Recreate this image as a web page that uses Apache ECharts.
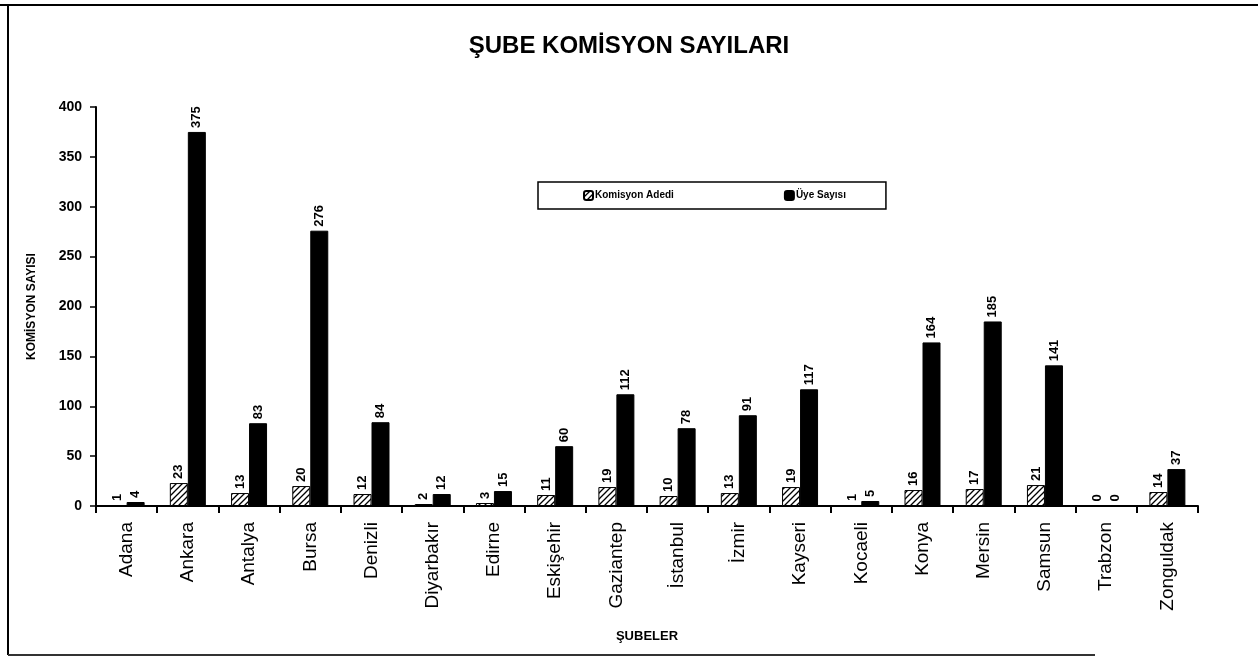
<!DOCTYPE html>
<html>
<head>
<meta charset="utf-8">
<script src="https://cdn.jsdelivr.net/npm/echarts@6/dist/echarts.min.js"></script>
<style>
  html, body { margin: 0; padding: 0; background: #fff; }
  #main { width: 1258px; height: 669px; }
</style>
</head>
<body>
<div id="main"></div>
<script>
// veriler
var subeler = ['Adana', 'Ankara', 'Antalya', 'Bursa', 'Denizli', 'Diyarbakır', 'Edirne', 'Eskişehir', 'Gaziantep',
  'İstanbul', 'İzmir', 'Kayseri', 'Kocaeli', 'Konya', 'Mersin', 'Samsun', 'Trabzon', 'Zonguldak'];
var komisyonAdedi = [1, 23, 13, 20, 12, 2, 3, 11, 19, 10, 13, 19, 1, 16, 17, 21, 0, 14];
var uyeSayisi = [4, 375, 83, 276, 84, 12, 15, 60, 112, 78, 91, 117, 5, 164, 185, 141, 0, 37];
var yTicks = [0, 50, 100, 150, 200, 250, 300, 350, 400];

var FONT = '"Liberation Sans Narrow", "Liberation Sans", Arial, sans-serif';

// taralı desen
function hatch() {
  var c = document.createElement('canvas');
  c.width = 6; c.height = 6;
  var ctx = c.getContext('2d');
  ctx.fillStyle = '#fff';
  ctx.fillRect(0, 0, 6, 6);
  ctx.strokeStyle = '#000';
  ctx.lineWidth = 1.3;
  ctx.beginPath();
  ctx.moveTo(0, 6); ctx.lineTo(6, 0);
  ctx.moveTo(-3, 3); ctx.lineTo(3, -3);
  ctx.moveTo(3, 9); ctx.lineTo(9, 3);
  ctx.stroke();
  return c;
}

var myChart = echarts.init(document.getElementById('main'));

var labelStyle = {
  show: true,
  position: 'top',
  rotate: 90,
  align: 'left',
  verticalAlign: 'middle',
  distance: 4,
  color: '#000',
  fontFamily: FONT,
  fontWeight: 'bold',
  fontSize: 13
};

var option = {
  backgroundColor: '#fff',
  animation: false,
  title: {
    text: 'ŞUBE KOMİSYON SAYILARI',
    left: 'center',
    top: 29,
    textStyle: { fontFamily: FONT, fontWeight: 'bold', fontSize: 24, color: '#000' }
  },
  legend: {
    data: ['Komisyon Adedi', 'Üye Sayısı'],
    left: 538,
    top: 182,
    width: 342,
    padding: [8, 40, 8, 45],
    itemGap: 110,
    itemWidth: 9,
    itemHeight: 9,
    borderColor: '#000',
    borderWidth: 1.5,
    textStyle: { fontFamily: FONT, fontWeight: 'bold', fontSize: 10, color: '#000', padding: [0, 0, 0, -3] }
  },
  grid: { left: 96, right: 60, top: 107, bottom: 163 },
  xAxis: {
    type: 'category',
    data: subeler,
    name: 'ŞUBELER',
    nameLocation: 'middle',
    nameGap: 124,
    nameTextStyle: { fontFamily: FONT, fontWeight: 'bold', fontSize: 13, color: '#000' },
    axisLine: { lineStyle: { color: '#000', width: 2 } },
    axisTick: { show: true, length: 7, lineStyle: { color: '#000', width: 2 } },
    axisLabel: {
      rotate: 90,
      interval: 0,
      margin: 16,
      color: '#000',
      fontFamily: FONT,
      fontSize: 19
    }
  },
  yAxis: {
    type: 'value',
    min: yTicks[0],
    max: yTicks[yTicks.length - 1],
    interval: 50,
    name: 'KOMİSYON SAYISI',
    nameLocation: 'middle',
    nameGap: 58,
    nameTextStyle: { fontFamily: FONT, fontWeight: 'bold', fontSize: 12, color: '#000' },
    axisLine: { show: true, lineStyle: { color: '#000', width: 2 } },
    axisTick: { show: true, length: 6, lineStyle: { color: '#000', width: 1.5 } },
    splitLine: { show: false },
    axisLabel: {
      margin: 14,
      color: '#000',
      fontFamily: FONT,
      fontWeight: 'bold',
      fontSize: 14
    }
  },
  series: [
    {
      name: 'Komisyon Adedi',
      type: 'bar',
      data: komisyonAdedi,
      barWidth: 18,
      barGap: '0%',
      itemStyle: { color: { image: hatch(), repeat: 'repeat' }, borderColor: '#000', borderWidth: 1 },
      label: labelStyle
    },
    {
      name: 'Üye Sayısı',
      type: 'bar',
      data: uyeSayisi,
      barWidth: 18,
      itemStyle: { color: '#000', borderColor: '#000', borderWidth: 1 },
      label: labelStyle
    }
  ],
  graphic: [
    { type: 'line', shape: { x1: 0, y1: 5, x2: 1258, y2: 5 }, style: { stroke: '#000', lineWidth: 2 } },
    { type: 'line', shape: { x1: 8, y1: 5, x2: 8, y2: 655 }, style: { stroke: '#000', lineWidth: 2 } },
    { type: 'line', shape: { x1: 8, y1: 655, x2: 1095, y2: 655 }, style: { stroke: '#333', lineWidth: 2 } }
  ]
};

myChart.setOption(option);
</script>
</body>
</html>
